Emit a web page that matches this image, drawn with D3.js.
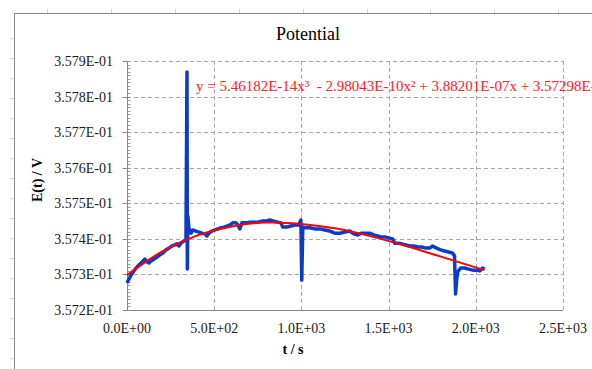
<!DOCTYPE html>
<html>
<head>
<meta charset="utf-8">
<script src="https://cdn.jsdelivr.net/npm/d3@7"></script>
<style>
    body { margin: 0; background: #fff; }
    svg { display: block; font-family: "Liberation Serif", "Times New Roman", serif; }
    .grid line { stroke: #a6a6a6; stroke-dasharray: 4,3; }
    .sheet line { stroke: #d4d4d4; }
</style>
</head>
<body>
<svg class="canvas" width="592" height="369"></svg>
<script>
// measured potential, t in s, E in V
var timeS = [0, 11, 23, 40, 57, 74, 92, 103, 115, 126, 137, 155, 172, 189, 206, 223, 241, 258, 275, 286,
    298, 309, 326, 338, 344, 346, 349, 355, 367, 378, 395, 412, 430, 447, 458, 470, 487, 504, 521, 538,
    556, 573, 590, 607, 624, 636, 647, 659, 682, 704, 727, 750, 773, 796, 819, 842, 865, 882, 893, 916,
    939, 962, 985, 997, 1002, 1008, 1025, 1048, 1077, 1105, 1134, 1163, 1191, 1220, 1249, 1277, 1300, 1323, 1346, 1369,
    1392, 1415, 1437, 1460, 1483, 1506, 1523, 1535, 1552, 1575, 1598, 1621, 1644, 1667, 1690, 1712, 1735, 1752, 1775, 1798,
    1821, 1844, 1867, 1878, 1884, 1890, 1896, 1913, 1936, 1959, 1982, 2004, 2022, 2039, 2050];
var potentialV = [0.357276, 0.357287, 0.357298, 0.357310, 0.357321, 0.357329, 0.357338, 0.357343, 0.357335, 0.357332,
    0.357338, 0.357343, 0.357349, 0.357355, 0.357360, 0.357369, 0.357374, 0.357380, 0.357383, 0.357386,
    0.357380, 0.357388, 0.357394, 0.357397, 0.357869, 0.357315, 0.357464, 0.357431, 0.357416, 0.357425,
    0.357422, 0.357419, 0.357416, 0.357414, 0.357408, 0.357416, 0.357422, 0.357425, 0.357428, 0.357431,
    0.357433, 0.357436, 0.357439, 0.357445, 0.357445, 0.357439, 0.357428, 0.357445, 0.357445, 0.357447,
    0.357447, 0.357447, 0.357450, 0.357450, 0.357453, 0.357450, 0.357447, 0.357445, 0.357433, 0.357433,
    0.357436, 0.357439, 0.357439, 0.357453, 0.357284, 0.357433, 0.357431, 0.357431, 0.357428, 0.357428,
    0.357425, 0.357422, 0.357416, 0.357416, 0.357419, 0.357422, 0.357414, 0.357411, 0.357416, 0.357416,
    0.357416, 0.357411, 0.357408, 0.357405, 0.357405, 0.357402, 0.357400, 0.357388, 0.357388, 0.357386,
    0.357383, 0.357380, 0.357380, 0.357377, 0.357377, 0.357374, 0.357374, 0.357380, 0.357374, 0.357369,
    0.357366, 0.357363, 0.357360, 0.357352, 0.357245, 0.357284, 0.357307, 0.357318, 0.357318, 0.357315,
    0.357312, 0.357312, 0.357310, 0.357318, 0.357315];

// polynomial trendline as drawn
var fitTime = [0, 200, 400, 600, 800, 1000, 1200, 1400, 1600, 1800, 2050];
var fitPotential = [0.357298, 0.357364, 0.357409, 0.357435, 0.357446, 0.357442, 0.357429, 0.357407, 0.357380, 0.357350, 0.357312];

var xTicks = [0, 500, 1000, 1500, 2000, 2500];
var xTickLabels = ['0.0E+00', '5.0E+02', '1.0E+03', '1.5E+03', '2.0E+03', '2.5E+03'];
var yTicks = [0.3572, 0.3573, 0.3574, 0.3575, 0.3576, 0.3577, 0.3578, 0.3579];
var yTickLabels = ['3.572E-01', '3.573E-01', '3.574E-01', '3.575E-01', '3.576E-01', '3.577E-01', '3.578E-01', '3.579E-01'];

var chartTitle = 'Potential';
var xTitle = 't / s';
var yTitle = 'E(t) / V';
var equation = 'y = 5.46182E-14x\u00b3  - 2.98043E-10x\u00b2 + 3.88201E-07x + 3.57298E-01';

var plot = {left: 127, top: 61, right: 563, bottom: 310};

var svg = d3.select('.canvas');

// worksheet cells peeking out around the chart frame
var sheet = svg.append('g').classed('sheet', true);
sheet.selectAll('.col').data(d3.range(47, 592, 63.9))
    .enter().append('line')
    .attr('x1', function(d){ return Math.round(d) + 0.5; })
    .attr('x2', function(d){ return Math.round(d) + 0.5; })
    .attr('y1', 9).attr('y2', 13);
sheet.selectAll('.row').data(d3.range(38, 369, 20))
    .enter().append('line')
    .attr('y1', function(d){ return d + 0.5; })
    .attr('y2', function(d){ return d + 0.5; })
    .attr('x1', 10).attr('x2', 14);

// chart frame
svg.append('path')
    .attr('d', 'M14.5,369V13.5H592')
    .attr('fill', 'none')
    .attr('stroke', '#878787');

var x = d3.scaleLinear().domain([0, 2500]).range([plot.left, plot.right]);
var y = d3.scaleLinear().domain([0.3572, 0.3579]).range([plot.bottom, plot.top]);

// gridlines
var grid = svg.append('g').classed('grid', true);
grid.selectAll('.gx').data(xTicks.slice(1))
    .enter().append('line')
    .attr('x1', function(d){ return Math.round(x(d)) + 0.5; })
    .attr('x2', function(d){ return Math.round(x(d)) + 0.5; })
    .attr('y1', plot.top).attr('y2', plot.bottom);
grid.selectAll('.gy').data(yTicks.slice(1))
    .enter().append('line')
    .attr('y1', function(d){ return Math.round(y(d)) + 0.5; })
    .attr('y2', function(d){ return Math.round(y(d)) + 0.5; })
    .attr('x1', plot.left).attr('x2', plot.right);

// y axis with inner minor ticks
var yAxis = svg.append('g')
    .attr('transform', 'translate(' + (plot.left + 0.5) + ',0.5)');
var minor = d3.range(0, 71).map(function(i){ return 0.3572 + i * 0.00001; });
yAxis.selectAll('.minor').data(minor)
    .enter().append('line')
    .attr('x1', 0).attr('x2', 3)
    .attr('y1', function(d){ return Math.round(y(d)); })
    .attr('y2', function(d){ return Math.round(y(d)); })
    .attr('stroke', '#9a9a9a');
yAxis.selectAll('.major').data(yTicks)
    .enter().append('line')
    .attr('x1', -5).attr('x2', 0)
    .attr('y1', function(d){ return Math.round(y(d)); })
    .attr('y2', function(d){ return Math.round(y(d)); })
    .attr('stroke', '#878787');
yAxis.append('line')
    .attr('x1', 0).attr('x2', 0)
    .attr('y1', plot.top).attr('y2', plot.bottom)
    .attr('stroke', '#878787');

svg.append('line')
    .attr('x1', plot.left).attr('x2', plot.right)
    .attr('y1', plot.bottom + 0.5).attr('y2', plot.bottom + 0.5)
    .attr('stroke', '#878787');

svg.selectAll('.ylab').data(yTicks)
    .enter().append('text')
    .attr('x', 113)
    .attr('y', function(d){ return y(d) + 5; })
    .attr('text-anchor', 'end')
    .attr('font-size', 14)
    .attr('fill', '#1a1a1a')
    .text(function(d, i){ return yTickLabels[i]; });

svg.selectAll('.xlab').data(xTicks)
    .enter().append('text')
    .attr('x', function(d){ return x(d); })
    .attr('y', 333)
    .attr('text-anchor', 'middle')
    .attr('font-size', 14)
    .attr('fill', '#1a1a1a')
    .text(function(d, i){ return xTickLabels[i]; });

// series
var pts = timeS.map(function(t, i){ return [t, potentialV[i]]; });
var line = d3.line()
    .x(function(d){ return x(d[0]); })
    .y(function(d){ return y(d[1]); });
svg.append('path')
    .datum(pts)
    .attr('d', line)
    .attr('fill', 'none')
    .attr('stroke', '#0a3ccc')
    .attr('stroke-width', 3.5)
    .attr('stroke-linejoin', 'round');

var fit = fitTime.map(function(t, i){ return [t, fitPotential[i]]; });
svg.append('path')
    .datum(fit)
    .attr('d', line.curve(d3.curveCatmullRom))
    .attr('fill', 'none')
    .attr('stroke', '#ff0000')
    .attr('stroke-width', 2);

// texts
svg.append('text')
    .attr('x', 308).attr('y', 40)
    .attr('text-anchor', 'middle')
    .attr('font-size', 18)
    .text(chartTitle);

svg.append('text')
    .attr('x', 196).attr('y', 91)
    .attr('font-size', 15)
    .attr('fill', '#ff2020')
    .attr('xml:space', 'preserve')
    .style('white-space', 'pre')
    .text(equation);

svg.append('text')
    .attr('x', 293).attr('y', 354)
    .attr('text-anchor', 'middle')
    .attr('font-size', 14)
    .attr('font-weight', 'bold')
    .text(xTitle);

svg.append('text')
    .attr('transform', 'translate(42,180) rotate(-90)')
    .attr('text-anchor', 'middle')
    .attr('font-size', 14)
    .attr('font-weight', 'bold')
    .text(yTitle);
</script>
</body>
</html>
